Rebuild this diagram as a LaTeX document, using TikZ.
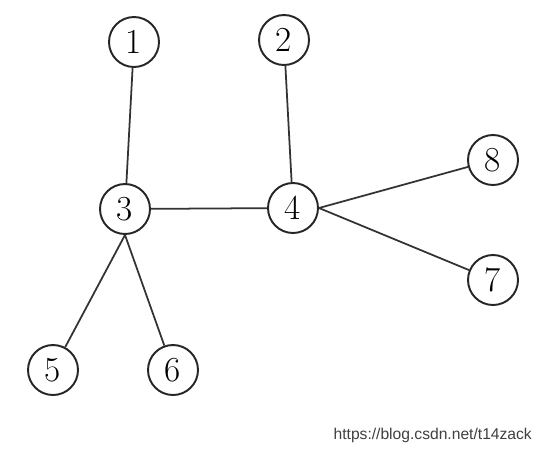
\documentclass[tikz,border=0pt]{standalone}
\usepackage{fontspec}
\setsansfont{Liberation Sans}
\usepackage{xcolor}
\usepackage{tikz}

\begin{document}
\begin{tikzpicture}[
  x=0.02cm, y=-0.02cm,
  vertex/.style={draw=black!85, circle, line width=1.1pt, minimum size=1cm,
                 inner sep=0pt, fill=white, font=\fontsize{20}{20}\selectfont},
  edge/.style={draw=black!80, line width=1pt}
]
  \useasboundingbox (0,0) rectangle (547,454);
  \node[vertex] (v1) at (134,42) {1};
  \node[vertex] (v2) at (284,40) {2};
  \node[vertex] (v3) at (125,209) {3};
  \node[vertex] (v4) at (293,208) {4};
  \node[vertex] (v8) at (493,160) {8};
  \node[vertex] (v7) at (493,280) {7};
  \node[vertex] (v5) at (53,370) {5};
  \node[vertex] (v6) at (173,370) {6};
  \draw[edge] (v1) -- (v3);
  \draw[edge] (v2) -- (v4);
  \draw[edge] (v3) -- (v4);
  \draw[edge] (v3.south) -- (v5);
  \draw[edge] (v3.south) -- (v6);
  \draw[edge] (v4.east) -- (v8);
  \draw[edge] (v4.east) -- (v7);
  \node[font=\sffamily\fontsize{8.9}{10}\selectfont, text=black!75, anchor=east]
    (url) at (538,435) {https://blog.csdn.net/t14zack};
\end{tikzpicture}
\end{document}
